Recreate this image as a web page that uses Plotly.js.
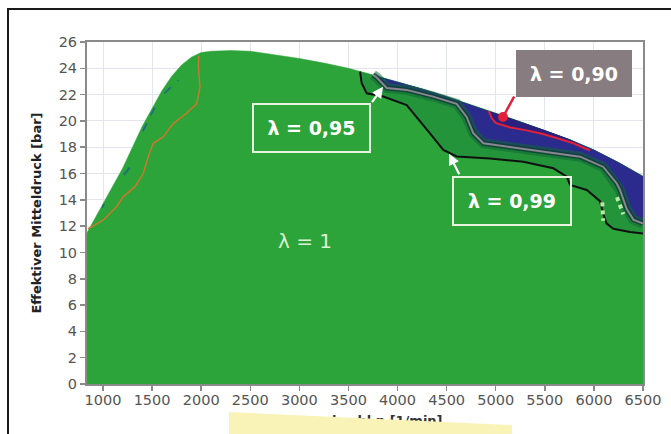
<!DOCTYPE html>
<html><head><meta charset="utf-8">
<script src="https://cdn.plot.ly/plotly-3.0.1.min.js"></script>
<style>
html,body{margin:0;padding:0;background:#fff;}
#wrap{position:relative;width:671px;height:434px;overflow:hidden;}
#chart{position:absolute;left:0;top:0;width:671px;height:434px;}
#frame{position:absolute;left:7px;top:8px;width:700px;height:500px;border-left:2px solid #1a1a1a;border-top:2px solid #1a1a1a;pointer-events:none;}
#cover{position:absolute;left:229px;top:412px;width:283px;height:30px;background:#faf3b8;clip-path:polygon(0 0,100% 13px,100% 100%,0 100%);pointer-events:none;}
</style></head><body>
<div id="wrap"><div id="chart"></div><div id="frame"></div><div id="cover"></div></div>
<script>
// Full-load curve (upper limit of the map)
const fullLoadRpm  = [837,1000,1200,1400,1500,1600,1700,1800,1900,2000,2100,2300,2500,2750,3000,3250,3500,3750,4000,4250,4500,4750,5000,5250,5500,5750,6000,6250,6500];
const fullLoadBmep = [11.5,13.7,16.4,19.6,21.0,22.3,23.4,24.25,24.85,25.2,25.3,25.35,25.3,25.05,24.75,24.4,24.0,23.5,23.0,22.45,21.85,21.25,20.6,19.95,19.3,18.6,17.8,16.85,15.8];

// lambda = 0.99 contour (black)
const l099Rpm  = [3618,3635,3686,3855,4093,4195,4330,4466,4602,4942,5281,5587,5723,5757,5927,6062,6096,6130,6198,6368,6500];
const l099Bmep = [23.75,22.86,22.1,21.85,21.2,20.3,19.06,17.8,17.3,17.15,16.9,16.4,15.77,15.13,14.75,13.9,12.9,12.2,11.8,11.55,11.45];

// lambda = 0.95 contour (grey)
const l095Rpm  = [3750,3788,3890,4093,4364,4602,4704,4772,4874,5112,5519,5859,6096,6232,6266,6334,6402,6500];
const l095Bmep = [23.5,23.3,22.5,22.36,21.85,21.3,20.3,19.06,18.3,18.05,17.67,17.28,16.5,15.25,14.75,13.3,12.5,12.2];

// lambda = 0.90 contour (red)
const l090Rpm  = [4930,4960,5000,5074,5150,5300,5450,5620,5790,5960];
const l090Bmep = [20.75,20.2,19.85,19.65,19.5,19.3,19.06,18.7,18.3,17.75];

// lean-side contour (orange) at low speed
const leanRpm  = [847,1003,1140,1207,1326,1410,1461,1512,1614,1716,1852,1954,1988,1971,1975];
const leanBmep = [11.8,12.47,13.5,14.25,15.0,16.0,17.3,18.3,18.8,19.8,20.6,21.3,22.6,24.1,24.95];

// small teal contour fragments near the full-load line
const tealRpm  = [995,1010,null,1215,1285,null,1405,1460,1525,null,1625,1765];
const tealBmep = [13.4,13.7,null,15.9,16.6,null,19.2,20.0,21.0,null,22.1,23.1];

// small light-green fragments near 6000-6300 rpm
const fragRpm  = [6085,6095,null,6235,6300];
const fragBmep = [13.8,12.4,null,14.2,12.9];

const xTicks = [1000,1500,2000,2500,3000,3500,4000,4500,5000,5500,6000,6500];

// label texts and anchor points
const labelText = ['λ = 0,95','λ = 0,99','λ = 0,90','λ = 1'];
const labelRpm  = [3124,5166,5797,3057];
const labelBmep = [19.47,13.92,23.6,10.9];
const arrowRpm  = [3852,4524,5074];
const arrowBmep = [22.6,17.5,20.3];

function band(lx, ly){
  const x = lx.slice(), y = ly.slice();
  const x0 = lx[0], x1 = lx[lx.length-1];
  for (let i = fullLoadRpm.length-1; i >= 0; i--){
    const r = fullLoadRpm[i];
    if (r <= x1 && r > x0){ x.push(r); y.push(fullLoadBmep[i]); }
  }
  x.push(x0); y.push(ly[0]);
  return {x, y};
}

const GREEN = '#2ca43a';
const b99 = band(l099Rpm, l099Bmep);
const b95 = band(l095Rpm, l095Bmep);
const b90 = band(l090Rpm, l090Bmep);

const traces = [
  {x: fullLoadRpm, y: fullLoadBmep, type:'scatter', mode:'lines', fill:'tozeroy', fillcolor: GREEN, line:{color:GREEN, width:0.5}, hoverinfo:'skip'},
  {x: b99.x, y: b99.y, type:'scatter', mode:'lines', fill:'toself', fillcolor:'#24943b', line:{width:0}, hoverinfo:'skip'},
  {x: b95.x, y: b95.y, type:'scatter', mode:'lines', fill:'toself', fillcolor:'#2a2b8c', line:{width:0}, hoverinfo:'skip'},
  {x: b90.x, y: b90.y, type:'scatter', mode:'lines', fill:'toself', fillcolor:'#2b1f80', line:{width:0}, hoverinfo:'skip'},
  {x: l095Rpm, y: l095Bmep, type:'scatter', mode:'lines', line:{color:'rgba(18,100,55,0.55)', width:10}, hoverinfo:'skip'},
  {x: l095Rpm, y: l095Bmep, type:'scatter', mode:'lines', line:{color:'rgba(10,62,52,0.8)', width:5}, hoverinfo:'skip'},
  {x: l099Rpm, y: l099Bmep, type:'scatter', mode:'lines', line:{color:'#111111', width:2}, hoverinfo:'skip'},
  {x: l095Rpm, y: l095Bmep, type:'scatter', mode:'lines', line:{color:'#8c8490', width:2}, hoverinfo:'skip'},
  {x: l090Rpm, y: l090Bmep, type:'scatter', mode:'lines', line:{color:'#e2203a', width:2}, hoverinfo:'skip'},
  {x: leanRpm, y: leanBmep, type:'scatter', mode:'lines', line:{color:'#c9792c', width:1.5}, hoverinfo:'skip'},
  {x: tealRpm, y: tealBmep, type:'scatter', mode:'lines', line:{color:'#1f6f7a', width:1.8, dash:'dash'}, connectgaps:false, hoverinfo:'skip'},
  {x: fragRpm, y: fragBmep, type:'scatter', mode:'lines', line:{color:'#b8e8a4', width:4, dash:'dot'}, connectgaps:false, hoverinfo:'skip'}
];

const boxFont = {family:'DejaVu Sans', size:19, color:'#ffffff', weight:'bold'};
const annotations = [
  {x: labelRpm[0], y: labelBmep[0], xref:'x', yref:'y', text: labelText[0], showarrow:false, font: boxFont,
   bordercolor:'#e8f5e0', borderwidth:2, borderpad:4, width:107, height:38, bgcolor:'rgba(0,0,0,0)'},
  {x: labelRpm[1], y: labelBmep[1], xref:'x', yref:'y', text: labelText[1], showarrow:false, font: boxFont,
   bordercolor:'#e8f5e0', borderwidth:2, borderpad:4, width:108, height:38, bgcolor:'rgba(0,0,0,0)'},
  {x: labelRpm[2], y: labelBmep[2], xref:'x', yref:'y', text: labelText[2], showarrow:false, font: boxFont,
   bordercolor:'#877c7f', borderwidth:0, borderpad:4, width:108, height:39, bgcolor:'#877c7f'},
  {x: labelRpm[3], y: labelBmep[3], xref:'x', yref:'y', text: labelText[3], showarrow:false,
   font:{family:'DejaVu Sans', size:20, color:'#dcf2d2'}},
  {x: arrowRpm[0], y: arrowBmep[0], xref:'x', yref:'y', text:'', showarrow:true, ax:-12, ay:17,
   arrowcolor:'#ffffff', arrowwidth:2.2, arrowhead:2, arrowsize:1},
  {x: arrowRpm[1], y: arrowBmep[1], xref:'x', yref:'y', text:'', showarrow:true, ax:11, ay:22,
   arrowcolor:'#ffffff', arrowwidth:2.2, arrowhead:2, arrowsize:1},
  {x: arrowRpm[2], y: arrowBmep[2], xref:'x', yref:'y', text:'', showarrow:true, ax:12, ay:-22,
   arrowcolor:'#e2203a', arrowwidth:2.5, arrowhead:6, arrowsize:1},
  {x: 0.644, y: -0.108, xref:'paper', yref:'paper', xanchor:'right', yanchor:'middle', showarrow:false,
   text:'<b>Drehzahl n [1/min]</b>', font:{family:'DejaVu Sans', size:13, color:'#333333'}}
];

const axisCommon = {
  ticks:'outside', ticklen:5, tickwidth:1.5, tickcolor:'#8a8a8a',
  showline:true, linecolor:'#8a8a8a', linewidth:2, mirror:true,
  showgrid:true, gridcolor:'#e4e4ec', gridwidth:1, zeroline:false,
  tickfont:{family:'DejaVu Sans', size:14.5, color:'#555555'}
};

const layout = {
  width:671, height:434,
  margin:{l:87, r:28, t:42, b:50},
  paper_bgcolor:'#ffffff', plot_bgcolor:'#ffffff',
  showlegend:false,
  xaxis: Object.assign({}, axisCommon, {range:[837,6500], tickvals:xTicks, ticktext:xTicks.map(String), ticklabelstandoff:-3}),
  yaxis: Object.assign({}, axisCommon, {range:[0,26], dtick:2, tick0:0,
    title:{text:'<b>Effektiver Mitteldruck [bar]</b>', standoff:14, font:{family:'DejaVu Sans', size:13, color:'#222222'}}}),
  annotations: annotations
};

Plotly.newPlot('chart', traces, layout, {displayModeBar:false, staticPlot:true});
</script></body></html>
